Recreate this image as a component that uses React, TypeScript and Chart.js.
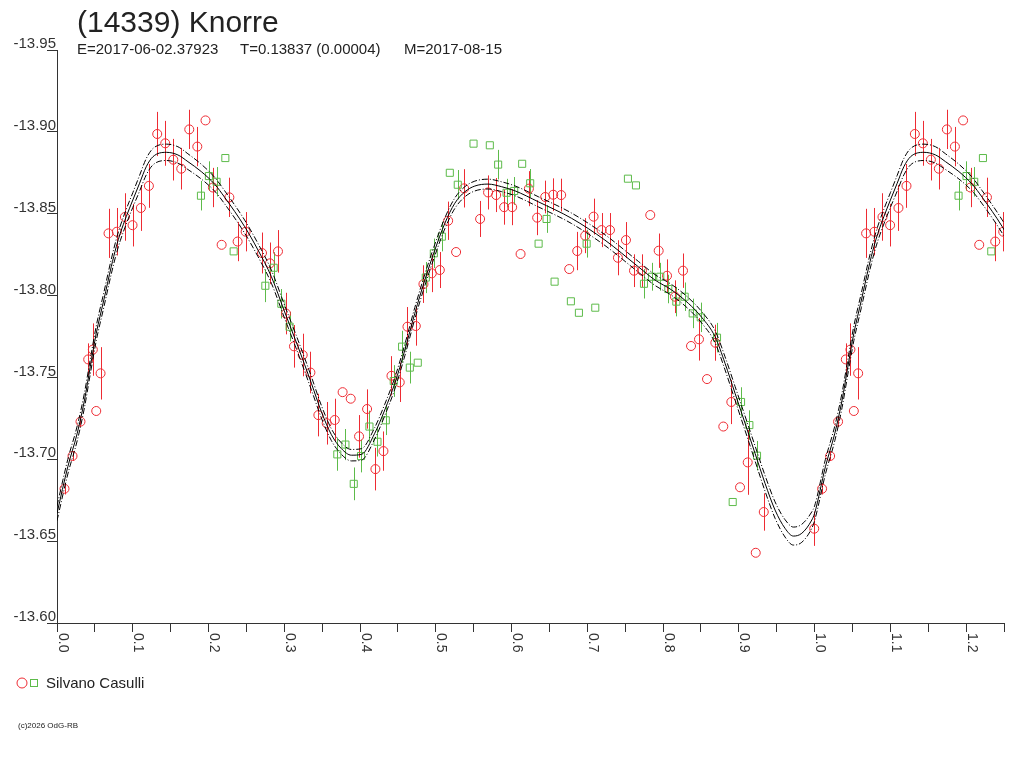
import React, { useEffect, useRef } from 'react';
import { Chart, registerables } from 'chart.js';

Chart.register(...registerables);

// header / legend text
const TITLE = '(14339) Knorre';
const EPOCH = 'E=2017-06-02.37923';
const PERIOD = 'T=0.13837 (0.00004)';
const MEAN = 'M=2017-08-15';
const OBSERVER = 'Silvano Casulli';
const CREDIT = '(c)2026 OdG-RB';

// axes
const Y_TICKS = [-13.95, -13.9, -13.85, -13.8, -13.75, -13.7, -13.65, -13.6];
const X_TICKS = [
  0, 0.05, 0.1, 0.15, 0.2, 0.25, 0.3, 0.35, 0.4, 0.45, 0.5, 0.55, 0.6,
  0.65, 0.7, 0.75, 0.8, 0.85, 0.9, 0.95, 1.0, 1.05, 1.1, 1.15, 1.2, 1.25,
];
const X_LABELS = [0, 0.1, 0.2, 0.3, 0.4, 0.5, 0.6, 0.7, 0.8, 0.9, 1.0, 1.1, 1.2];
const PHASE_MAX = 1.25;

// red circles (phase, magnitude, error)
const redPhase = [
  0.0099, 0.0205, 0.031, 0.0518, 0.0575, 0.0412, 0.0473, 0.068, 0.079, 0.0896,
  0.0997, 0.1107, 0.1213, 0.1323, 0.1429, 0.1535, 0.164, 0.1746, 0.1852, 0.196,
  0.2058, 0.2275, 0.2173, 0.2384, 0.249, 0.2706, 0.2811, 0.2917, 0.3023, 0.3128,
  0.3243, 0.3345, 0.345, 0.356, 0.3666, 0.377, 0.3877, 0.3987, 0.4093, 0.4203,
  0.4309, 0.4415, 0.4524, 0.4626, 0.4736, 0.4837, 0.4947, 0.5053, 0.5268, 0.5163,
  0.5374, 0.5585, 0.569, 0.5797, 0.5902, 0.6008, 0.6119, 0.6229, 0.6338, 0.6444,
  0.655, 0.6655, 0.6761, 0.6867, 0.6972, 0.7083, 0.7189, 0.7299, 0.7404, 0.751,
  0.7616, 0.7721, 0.7831, 0.7942, 0.8052, 0.8157, 0.8263, 0.8369, 0.8474, 0.858,
  0.869, 0.8795, 0.8901, 0.9016, 0.9117, 0.9223, 0.9329, 0.9995,
];
const redMag = [
  -13.682, -13.702, -13.723, -13.7295, -13.7525, -13.761, -13.767, -13.838, -13.839, -13.848,
  -13.843, -13.8535, -13.867, -13.8987, -13.893, -13.883, -13.8775, -13.9015, -13.891, -13.907,
  -13.866, -13.86, -13.831, -13.833, -13.839, -13.826, -13.8197, -13.827, -13.789, -13.769,
  -13.7637, -13.753, -13.727, -13.722, -13.724, -13.741, -13.737, -13.714, -13.7307, -13.694,
  -13.705, -13.751, -13.747, -13.781, -13.7814, -13.807, -13.8136, -13.8156, -13.8266, -13.8457,
  -13.8655, -13.8468, -13.863, -13.8614, -13.854, -13.854, -13.8254, -13.8653, -13.8476, -13.8602,
  -13.8616, -13.8614, -13.8162, -13.8272, -13.8366, -13.8482, -13.84, -13.84, -13.8231, -13.8339,
  -13.8152, -13.8152, -13.8492, -13.8274, -13.8121, -13.7993, -13.8152, -13.7692, -13.7733, -13.749,
  -13.7712, -13.72, -13.735, -13.6829, -13.6981, -13.6429, -13.6678, -13.6576,
];
const redErr = [
  0.0035, 0.003, 0.0033, 0, 0.016, 0.0098, 0.016, 0.015, 0.0145, 0.0145,
  0.013, 0.014, 0.0134, 0.0135, 0.0137, 0.0127, 0.0127, 0.012, 0.012, 0,
  0.012, 0.012, 0, 0.012, 0.012, 0.0125, 0.0127, 0.013, 0.0127, 0.013,
  0.013, 0.0127, 0.013, 0.013, 0.013, 0, 0, 0.013, 0.012, 0.013,
  0.012, 0.012, 0.012, 0.012, 0.012, 0.0115, 0.0115, 0.011, 0, 0.0117,
  0.0117, 0.011, 0.0104, 0.0104, 0.0107, 0.011, 0, 0.0107, 0.0107, 0.01,
  0.01, 0.01, 0, 0.0117, 0.0107, 0.011, 0.0104, 0.0104, 0.0107, 0.011,
  0.01, 0.01, 0, 0.0105, 0.01, 0.01, 0.0105, 0, 0.013, 0,
  0.011, 0, 0.0135, 0, 0.0198, 0, 0.0114, 0.0105,
];

// green squares (phase, magnitude, error)
const greenPhase = [
  0.19, 0.2005, 0.2222, 0.2107, 0.2332, 0.275, 0.286, 0.2961, 0.307, 0.37,
  0.3807, 0.3917, 0.4013, 0.4124, 0.423, 0.434, 0.4445, 0.4555, 0.4657, 0.4762,
  0.4868, 0.4974, 0.508, 0.5185, 0.529, 0.5498, 0.5713, 0.5823, 0.5934, 0.6035,
  0.614, 0.6246, 0.6462, 0.6357, 0.6568, 0.6783, 0.6889, 0.7105, 0.6991, 0.7536,
  0.7642, 0.7748, 0.7853, 0.7963, 0.8069, 0.8175, 0.8285, 0.8391, 0.8497, 0.8712,
  0.8919, 0.9029, 0.9139, 0.924,
];
const greenMag = [
  -13.861, -13.873, -13.884, -13.8695, -13.827, -13.806, -13.817, -13.795, -13.781, -13.703,
  -13.709, -13.685, -13.702, -13.72, -13.7107, -13.7238, -13.7478, -13.7688, -13.756, -13.759,
  -13.811, -13.8258, -13.836, -13.875, -13.8677, -13.8928, -13.8918, -13.88, -13.8628, -13.8639,
  -13.8805, -13.8686, -13.8468, -13.8317, -13.8085, -13.7965, -13.7895, -13.7926, -13.8317, -13.8714,
  -13.8673, -13.8072, -13.8115, -13.8115, -13.804, -13.7963, -13.7993, -13.7891, -13.7867, -13.7743,
  -13.6739, -13.735, -13.7209, -13.7022,
];
const greenErr = [
  0.009, 0.009, 0, 0.009, 0, 0.01, 0.0095, 0.009, 0.009, 0.01,
  0.0095, 0.01, 0.01, 0.0097, 0.009, 0.009, 0.0097, 0.0097, 0.0097, 0,
  0.0095, 0.009, 0.009, 0, 0.009, 0, 0, 0.009, 0.0085, 0.0085,
  0, 0.0087, 0.0085, 0, 0, 0, 0, 0, 0.0085, 0,
  0, 0.009, 0.0085, 0.0085, 0.0087, 0.009, 0.0087, 0.009, 0.009, 0.009,
  0, 0.009, 0.009, 0.009,
];

// fitted curve and its uncertainty band
const fitPhase = [
  0, 0.0143, 0.0267, 0.0363, 0.0439, 0.0518, 0.0618, 0.0716, 0.0782, 0.0835,
  0.0914, 0.1001, 0.109, 0.1178, 0.1266, 0.1443, 0.1596, 0.1728, 0.1905, 0.2081,
  0.2213, 0.2477, 0.2653, 0.283, 0.3005, 0.3181, 0.3358, 0.349, 0.3622, 0.3754,
  0.3886, 0.4019, 0.4194, 0.4326, 0.4459, 0.4591, 0.4723, 0.4855, 0.4987, 0.5119,
  0.5251, 0.5383, 0.5515, 0.5691, 0.5868, 0.6044, 0.6352, 0.6792, 0.7232, 0.7673,
  0.7893, 0.8114, 0.8333, 0.851, 0.8686, 0.8818, 0.895, 0.9082, 0.9214, 0.9346,
  0.9478, 0.961, 0.972, 0.9831, 0.9963,
];
const fitMag = [
  -13.667, -13.6955, -13.7159, -13.7362, -13.7565, -13.7769, -13.7973, -13.8176, -13.8298, -13.838,
  -13.8482, -13.8584, -13.8686, -13.8787, -13.8848, -13.8875, -13.8859, -13.8818, -13.8757, -13.868,
  -13.86, -13.8421, -13.8278, -13.8115, -13.79, -13.7688, -13.7464, -13.729, -13.715, -13.7065,
  -13.7025, -13.703, -13.7159, -13.7301, -13.7464, -13.7667, -13.7892, -13.8095, -13.8278, -13.8441,
  -13.8564, -13.8634, -13.8669, -13.8681, -13.8665, -13.864, -13.8573, -13.8472, -13.8339, -13.8176,
  -13.8095, -13.8034, -13.7953, -13.7867, -13.7749, -13.7586, -13.7403, -13.722, -13.7036, -13.6853,
  -13.669, -13.6578, -13.6531, -13.6548, -13.6629,
];
const fitBand = [
  0.0045, 0.0045, 0.0045, 0.0045, 0.0045, 0.0045, 0.0045, 0.0045, 0.0045, 0.0045,
  0.0045, 0.0045, 0.0048, 0.005, 0.005, 0.005, 0.005, 0.0048, 0.0045, 0.0042,
  0.004, 0.004, 0.004, 0.004, 0.004, 0.004, 0.004, 0.0038, 0.0036, 0.0035,
  0.0035, 0.0035, 0.0035, 0.0035, 0.0035, 0.0035, 0.0035, 0.0035, 0.0035, 0.0033,
  0.0032, 0.0031, 0.003, 0.003, 0.003, 0.003, 0.0031, 0.0032, 0.0033, 0.0033,
  0.0033, 0.0033, 0.0034, 0.0035, 0.0037, 0.004, 0.0042, 0.0044, 0.0046, 0.0048,
  0.005, 0.0053, 0.0055, 0.0055, 0.005,
];

const RED = '#EE2B33';
const GREEN = '#5DBB4A';
const AXIS = '#333333';
const TEXT = '#222222';
const FONT = '"Liberation Sans", Arial, sans-serif';

type Pt = { x: number; y: number };

// phases below 0.25 are plotted a second time one cycle later
const repeatCycle = (phase: number[], vals: number[]): Pt[] => {
  const pts = phase.map((p, i) => ({ x: p, y: vals[i] }));
  phase.forEach((p, i) => {
    if (p + 1 <= PHASE_MAX + 0.02) pts.push({ x: p + 1, y: vals[i] });
  });
  return pts;
};

const errorBars = {
  id: 'errorBars',
  beforeDatasetsDraw(chart: Chart) {
    const { ctx, chartArea } = chart;
    const xs = chart.scales.x;
    const ys = chart.scales.y;
    ctx.save();
    ctx.beginPath();
    ctx.rect(chartArea.left, chartArea.top, chartArea.right - chartArea.left, chartArea.bottom - chartArea.top);
    ctx.clip();
    ctx.lineWidth = 1;
    chart.data.datasets.forEach((ds: any) => {
      if (!ds.errors) return;
      ctx.strokeStyle = ds.borderColor;
      (ds.data as Pt[]).forEach((p, j) => {
        const e = ds.errors[j];
        if (!e) return;
        const px = Math.round(xs.getPixelForValue(p.x)) + 0.5;
        ctx.beginPath();
        ctx.moveTo(px, ys.getPixelForValue(p.y - e));
        ctx.lineTo(px, ys.getPixelForValue(p.y + e));
        ctx.stroke();
      });
    });
    ctx.restore();
  },
};

const decorations = {
  id: 'decorations',
  afterDraw(chart: Chart) {
    const { ctx } = chart;
    const xs = chart.scales.x;
    ctx.save();
    ctx.fillStyle = TEXT;
    ctx.textAlign = 'left';
    ctx.textBaseline = 'alphabetic';

    ctx.font = `30px ${FONT}`;
    ctx.fillText(TITLE, 77, 32);

    ctx.font = `15px ${FONT}`;
    ctx.fillText(EPOCH, 77, 54);
    ctx.fillText(PERIOD, 240, 54);
    ctx.fillText(MEAN, 404, 54);

    // x tick labels, turned clockwise
    ctx.fillStyle = AXIS;
    ctx.font = `14px ${FONT}`;
    X_LABELS.forEach((v) => {
      const px = xs.getPixelForValue(v);
      ctx.save();
      ctx.translate(px + 1.5, 633);
      ctx.rotate(Math.PI / 2);
      ctx.fillText(v.toFixed(1), 0, 0);
      ctx.restore();
    });

    // legend
    ctx.lineWidth = 1;
    ctx.strokeStyle = RED;
    ctx.beginPath();
    ctx.arc(22, 683, 5, 0, Math.PI * 2);
    ctx.stroke();
    ctx.strokeStyle = GREEN;
    ctx.strokeRect(30.5, 679.5, 7, 7);
    ctx.fillStyle = TEXT;
    ctx.font = `15px ${FONT}`;
    ctx.fillText(OBSERVER, 46, 688);

    ctx.font = `8px ${FONT}`;
    ctx.fillText(CREDIT, 18, 728);
    ctx.restore();
  },
};

const LightCurve: React.FC = () => {
  const canvasRef = useRef<HTMLCanvasElement>(null);
  const chartRef = useRef<Chart | null>(null);

  useEffect(() => {
    if (!canvasRef.current) return;
    if (chartRef.current) chartRef.current.destroy();

    const fit = repeatCycle(fitPhase, fitMag);
    const upper = repeatCycle(fitPhase, fitMag.map((m, i) => m - fitBand[i]));
    const lower = repeatCycle(fitPhase, fitMag.map((m, i) => m + fitBand[i]));

    const curve = (data: Pt[], dash: number[]) => ({
      data,
      showLine: true,
      borderColor: '#000000',
      borderWidth: 1,
      borderDash: dash,
      pointRadius: 0,
      cubicInterpolationMode: 'monotone' as const,
      fill: false,
      order: 0,
    });

    chartRef.current = new Chart(canvasRef.current, {
      type: 'scatter',
      data: {
        datasets: [
          {
            data: repeatCycle(redPhase, redMag),
            errors: repeatCycle(redPhase, redErr).map((p) => p.y),
            pointStyle: 'circle',
            pointRadius: 4.5,
            borderColor: RED,
            backgroundColor: 'rgba(0,0,0,0)',
            borderWidth: 1,
            order: 2,
          } as any,
          {
            data: repeatCycle(greenPhase, greenMag),
            errors: repeatCycle(greenPhase, greenErr).map((p) => p.y),
            pointStyle: 'rect',
            pointRadius: 5,
            borderColor: GREEN,
            backgroundColor: 'rgba(0,0,0,0)',
            borderWidth: 1,
            order: 1,
          } as any,
          curve(upper, [6, 2, 1, 2]),
          curve(lower, [6, 2, 1, 2]),
          curve(fit, []),
        ],
      },
      options: {
        animation: false,
        responsive: true,
        maintainAspectRatio: false,
        layout: { padding: { left: 0, top: 50, right: 20, bottom: 115 } },
        plugins: {
          legend: { display: false },
          tooltip: { enabled: false },
        },
        scales: {
          x: {
            type: 'linear',
            min: 0,
            max: PHASE_MAX,
            afterBuildTicks: (scale) => {
              scale.ticks = X_TICKS.map((v) => ({ value: v }));
            },
            afterFit: (scale) => {
              scale.height = 30;
            },
            ticks: { display: false, autoSkip: false },
            grid: { drawOnChartArea: false, drawTicks: true, tickLength: 9, color: AXIS },
            border: { display: true, color: AXIS, width: 1 },
          },
          y: {
            type: 'linear',
            reverse: true,
            min: -13.95,
            max: -13.6,
            afterBuildTicks: (scale) => {
              scale.ticks = Y_TICKS.map((v) => ({ value: v }));
            },
            afterFit: (scale) => {
              scale.width = 57;
            },
            ticks: {
              autoSkip: false,
              padding: -9,
              labelOffset: -6,
              color: AXIS,
              font: { family: FONT, size: 15 },
              callback: (v) => Number(v).toFixed(2),
            },
            grid: { drawOnChartArea: false, drawTicks: true, tickLength: 10, color: AXIS },
            border: { display: true, color: AXIS, width: 1 },
          },
        },
      },
      plugins: [errorBars, decorations],
    });

    return () => {
      if (chartRef.current) {
        chartRef.current.destroy();
        chartRef.current = null;
      }
    };
  }, []);

  return (
    <div style={{ position: 'fixed', left: 0, top: 0, width: 1024, height: 768, background: '#ffffff' }}>
      <canvas ref={canvasRef} />
    </div>
  );
};

export default function App() {
  return <LightCurve />;
}
